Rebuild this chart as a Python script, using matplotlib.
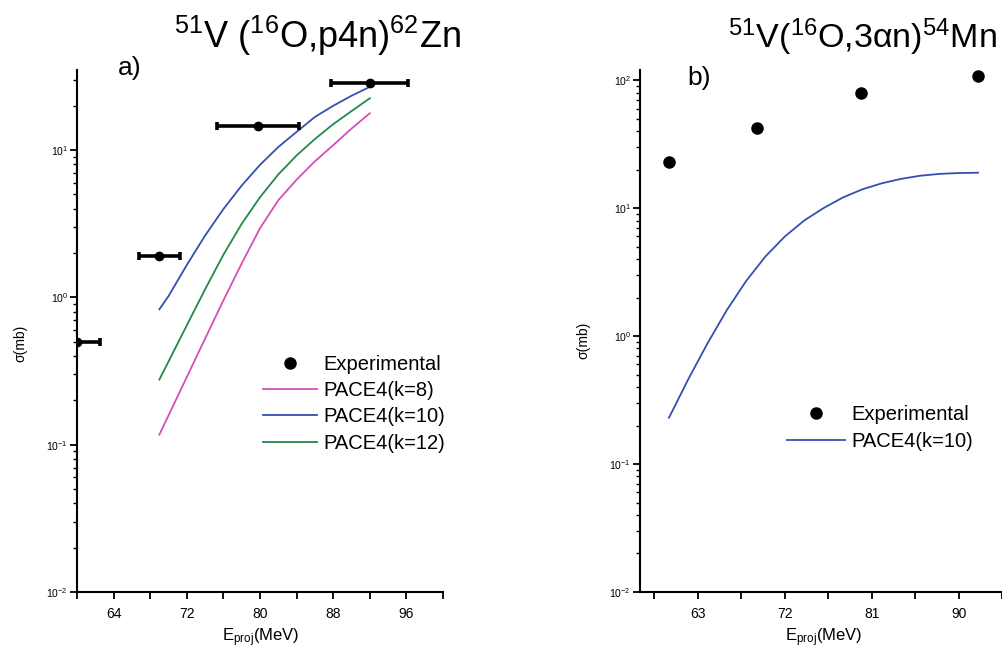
import matplotlib
matplotlib.use("Agg")
import matplotlib.pyplot as plt
from matplotlib.lines import Line2D
from matplotlib.ticker import FixedLocator, LogLocator, NullFormatter

plt.rcParams['font.family'] = ['Liberation Sans', 'DejaVu Sans']
plt.rcParams['mathtext.fontset'] = 'custom'
plt.rcParams['mathtext.rm'] = 'Liberation Sans'
plt.rcParams['mathtext.it'] = 'Liberation Sans:italic'
plt.rcParams['mathtext.bf'] = 'Liberation Sans:bold'

# panel a) 51V(16O,p4n)62Zn
exp_a_E = [60, 69, 79.8, 92]
exp_a_sig = [0.5, 1.9, 14.6, 28.5]
exp_a_xerr = [2.5, 2.25, 4.5, 4.2]

pace_E = [69, 70, 72, 74, 76, 78, 80, 82, 84, 86, 88, 90, 92]
pace_k8 = [0.117, 0.158, 0.288, 0.525, 0.955, 1.70, 2.95, 4.57, 6.3, 8.4, 10.8, 14.0, 17.8]
pace_k10 = [0.83, 1.02, 1.66, 2.63, 3.98, 5.75, 7.94, 10.5, 13.3, 16.8, 20.0, 23.4, 26.9]
pace_k12 = [0.277, 0.367, 0.646, 1.135, 1.95, 3.16, 4.79, 6.84, 9.2, 11.9, 15.0, 18.4, 22.5]

# panel b) 51V(16O,3an)54Mn
exp_b_E = [60, 69.1, 79.9, 92]
exp_b_sig = [23, 42, 79, 107]

pace_b_E = [60, 62, 64, 66, 68, 70, 72, 74, 76, 78, 80, 82, 84, 86, 88, 90, 92]
pace_b_k10 = [0.23, 0.46, 0.88, 1.6, 2.7, 4.2, 6.0, 8.0, 10.0, 12.1, 14.0, 15.6, 16.9, 17.9, 18.5, 18.8, 18.9]

c_k8 = '#d44fb8'
c_k10 = '#3350b0'
c_k12 = '#23884a'

W, H = 1003, 652
fig = plt.figure(figsize=(W / 100, H / 100), dpi=100)


def px_axes(x0, x1, y0, y1):
    return fig.add_axes([x0 / W, 1 - y1 / H, (x1 - x0) / W, (y1 - y0) / H])


def style(ax):
    for s in ['top', 'right']:
        ax.spines[s].set_visible(False)
    for s in ['left', 'bottom']:
        ax.spines[s].set_linewidth(1.5)
    ax.set_yscale('log')
    ax.yaxis.set_major_locator(LogLocator(base=10, numticks=10))
    ax.yaxis.set_minor_locator(LogLocator(base=10, subs=range(2, 10), numticks=10))
    ax.yaxis.set_minor_formatter(NullFormatter())
    ax.tick_params(axis='y', which='major', labelsize=7.5, length=5, width=1.3, pad=1.5)
    ax.tick_params(axis='y', which='minor', length=3, width=1.0)
    ax.tick_params(axis='x', which='major', labelsize=10, length=5, width=1.3, pad=6)
    ax.tick_params(axis='x', which='minor', length=5, width=1.3)


dot = Line2D([], [], marker='o', ls='none', color='black', ms=8)

# ---- a) ----
ax1 = px_axes(77, 443, 70, 592)
style(ax1)
l8, = ax1.plot(pace_E, pace_k8, color=c_k8, lw=1.3)
l10, = ax1.plot(pace_E, pace_k10, color=c_k10, lw=1.3)
l12, = ax1.plot(pace_E, pace_k12, color=c_k12, lw=1.3)
ax1.errorbar(exp_a_E, exp_a_sig, xerr=exp_a_xerr, fmt='o', color='black', ms=6,
             elinewidth=2.6, capsize=3.2, capthick=2.6, zorder=5)
ax1.set_xlim(60, 100)
ax1.set_ylim(0.01, 35)
ax1.xaxis.set_major_locator(FixedLocator([64, 72, 80, 88, 96]))
ax1.xaxis.set_minor_locator(FixedLocator([60, 68, 76, 84, 92, 100]))
ax1.legend([dot, l8, l10, l12], ['Experimental', 'PACE4(k=8)', 'PACE4(k=10)', 'PACE4(k=12)'],
           loc='upper left', bbox_to_anchor=(263 / W, 1 - 355 / H), bbox_transform=fig.transFigure,
           frameon=False, fontsize=14.5, borderpad=0, borderaxespad=0,
           handlelength=2.7, handletextpad=0.3, labelspacing=0.36)
fig.text(20 / W, 1 - 343 / H, 'σ(mb)', rotation=90, ha='center', va='center', fontsize=10)
fig.text(261 / W, 1 - 638 / H, r'E$_{\mathrm{proj}}$(MeV)', ha='center', va='center', fontsize=12)
fig.text(317 / W, 1 - 48 / H, r'$^{51}$V ($^{16}$O,p4n)$^{62}$Zn', ha='center',
         va='baseline', fontsize=26)
fig.text(118 / W, 1 - 75 / H, 'a)', ha='left', va='baseline', fontsize=19)

# ---- b) ----
ax2 = px_axes(640, 1007, 70, 592)
style(ax2)
ax2.plot(exp_b_E, exp_b_sig, 'o', color='black', ms=8)
lb, = ax2.plot(pace_b_E, pace_b_k10, color=c_k10, lw=1.3)
ax2.set_xlim(57, 95)
ax2.set_ylim(0.01, 120)
ax2.xaxis.set_major_locator(FixedLocator([63, 72, 81, 90]))
ax2.xaxis.set_minor_locator(FixedLocator([58.5, 67.5, 76.5, 85.5, 94.5]))
ax2.legend([dot, lb], ['Experimental', 'PACE4(k=10)'], loc='upper left',
           bbox_to_anchor=(787 / W, 1 - 405 / H), bbox_transform=fig.transFigure,
           frameon=False, fontsize=14.5, borderpad=0, borderaxespad=0,
           handlelength=2.9, handletextpad=0.3, labelspacing=0.4)
fig.text(583 / W, 1 - 340 / H, 'σ(mb)', rotation=90, ha='center', va='center', fontsize=10)
fig.text(824 / W, 1 - 638 / H, r'E$_{\mathrm{proj}}$(MeV)', ha='center', va='center', fontsize=12)
fig.text(862 / W, 1 - 48 / H, r'$^{51}$V($^{16}$O,3αn)$^{54}$Mn', ha='center',
         va='baseline', fontsize=24.5)
fig.text(687 / W, 1 - 85 / H, 'b)', ha='left', va='baseline', fontsize=19)

fig.savefig('out.png', dpi=100)
